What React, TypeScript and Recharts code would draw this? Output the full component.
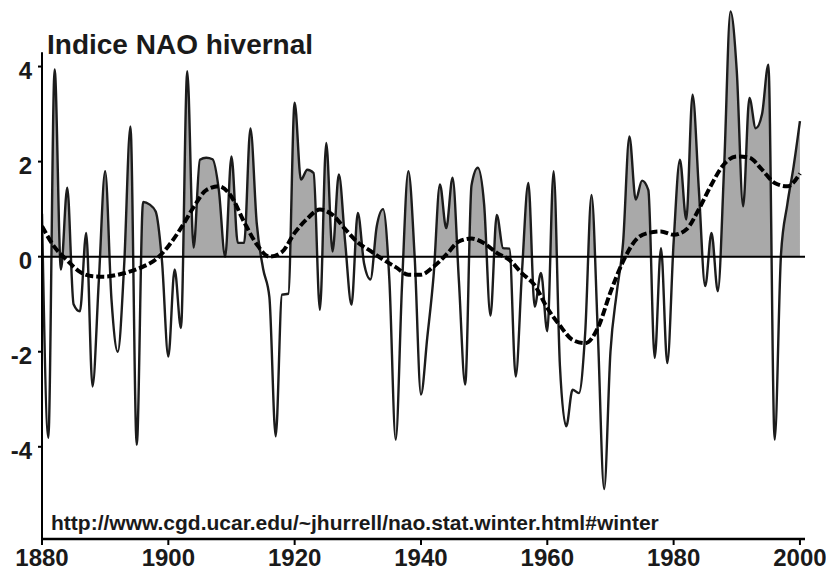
import React from 'react';
import { ComposedChart, Area, Line, XAxis, YAxis, ReferenceLine } from 'recharts';

// Indice NAO hivernal (DJFM), une valeur par an depuis 1880
const firstYear = 1880;
const naoValues = [
  0.9, -3.81, 3.94, -0.27, 1.45, -1.0, -1.15, 0.5, -2.73, -0.5,
  1.8, -0.9, -2.0, -0.2, 2.74, -3.96, 1.15, 1.1, 0.95, -0.1,
  -2.1, -0.27, -1.5, 3.9, 0.19, 2.04, 2.08, 2.05, 1.4, 0.0,
  2.11, 0.29, 0.29, 2.7, 0.7, -0.25, -0.85, -3.78, -0.8, -0.78,
  3.24, 1.62, 1.83, 1.76, -1.12, 2.39, 0.11, 1.73, 0.3, -1.01,
  0.92, -0.15, -0.48, 0.64, 1.0, -0.5, -3.85, -0.6, 1.8, 0.0,
  -2.9, -1.7, -0.4, 1.52, 0.6, 1.66, -0.5, -2.69, 1.5, 1.87,
  1.1, -1.24, 0.88, 0.18, 0.17, -2.52, -0.3, 1.55, -1.05, -0.34,
  -1.57, 1.8, -2.3, -3.57, -2.8, -2.87, -1.6, 1.3, -1.6, -4.89,
  -2.0, -0.75, 0.3, 2.53, 1.2, 1.6, 1.4, -2.13, 0.18, -2.24,
  0.3, 2.04, 0.78, 3.41, 1.4, -0.62, 0.5, -0.73, 1.9, 5.16,
  3.9, 1.06, 3.34, 2.7, 3.0, 4.04, -3.85, 0.05, 1.1, 1.9,
  2.85,
];

// moyenne glissante (courbe en tirets)
const smoothYears = [
  1880, 1882, 1884, 1886, 1888, 1890, 1892, 1894, 1896, 1898,
  1900, 1902, 1904, 1906, 1908, 1910, 1912, 1914, 1916, 1918,
  1920, 1922, 1924, 1926, 1928, 1930, 1932, 1934, 1936, 1938,
  1940, 1942, 1944, 1946, 1948, 1950, 1952, 1954, 1956, 1958,
  1960, 1962, 1964, 1966, 1968, 1970, 1972, 1974, 1976, 1978,
  1980, 1982, 1984, 1986, 1988, 1990, 1992, 1994, 1996, 1998,
  2000,
];
const smoothValues = [
  0.64, 0.2, -0.08, -0.32, -0.41, -0.42, -0.38, -0.31, -0.21, -0.06,
  0.22, 0.6, 1.04, 1.4, 1.48, 1.26, 0.73, 0.26, 0.0, 0.1,
  0.5, 0.8, 0.99, 0.88, 0.58, 0.3, 0.12, -0.06, -0.22, -0.38,
  -0.38, -0.21, 0.04, 0.32, 0.38, 0.28, 0.08, -0.07, -0.35, -0.6,
  -1.08, -1.45, -1.75, -1.82, -1.5, -0.75, -0.1, 0.35, 0.5, 0.53,
  0.46, 0.57, 1.0, 1.52, 1.95, 2.11, 2.08, 1.83, 1.55, 1.48,
  1.75,
];

const xTicks = [1880, 1900, 1920, 1940, 1960, 1980, 2000];
const yTicks = [-4, -2, 0, 2, 4];

const naoData = naoValues.map((v, i) => ({ year: firstYear + i, nao: v }));
const smoothData = smoothYears.map((y, i) => ({ year: y, smooth: smoothValues[i] }));

const FONT = '"Liberation Sans", Arial, Helvetica, sans-serif';
const INK = '#1a1a1a';

const gradientOffset = () => {
  const max = Math.max(...naoValues);
  const min = Math.min(...naoValues);
  return max / (max - min);
};
const off = gradientOffset();

const XTick = ({ x, y, payload }: any) => (
  <text x={x} y={y + 19} textAnchor="middle" fontFamily={FONT} fontSize={24} fontWeight={700} fill={INK}>
    {payload.value}
  </text>
);

const YTick = ({ x, y, payload }: any) => (
  <text x={x - 4} y={y + 12} textAnchor="end" fontFamily={FONT} fontSize={24} fontWeight={700} fill={INK}>
    {payload.value}
  </text>
);

const App = () => {
  return (
    <div style={{ position: 'absolute', left: 0, top: 0, width: 826, height: 573, background: '#fff' }}>
      <ComposedChart width={826} height={573} data={naoData} margin={{ top: 0, right: 21, bottom: 0, left: 0 }}>
        <defs>
          <linearGradient id="naoSplit" x1="0" y1="0" x2="0" y2="1">
            <stop offset={off} stopColor="#a9a9a9" stopOpacity={1} />
            <stop offset={off} stopColor="#ffffff" stopOpacity={0} />
          </linearGradient>
        </defs>
        <XAxis
          dataKey="year"
          type="number"
          domain={[1880, 2000.8]}
          ticks={xTicks}
          allowDataOverflow
          height={34}
          tickSize={6}
          tick={<XTick />}
          axisLine={{ stroke: '#000', strokeWidth: 2.5 }}
          tickLine={{ stroke: '#000', strokeWidth: 2 }}
        />
        <YAxis
          type="number"
          domain={[-5.94, 5.4]}
          ticks={yTicks}
          allowDataOverflow
          width={42}
          tickSize={4}
          tick={<YTick />}
          axisLine={false}
          tickLine={{ stroke: '#000', strokeWidth: 2 }}
        />
        <ReferenceLine
          segment={[{ x: 1880, y: -5.94 }, { x: 1880, y: 4.3 }]}
          stroke="#000"
          strokeWidth={2}
        />
        <Area
          type="monotone"
          dataKey="nao"
          baseValue={0}
          stroke="#1c1c1c"
          strokeWidth={2.4}
          fill="url(#naoSplit)"
          fillOpacity={1}
          dot={false}
          activeDot={false}
          isAnimationActive={false}
        />
        <ReferenceLine y={0} stroke="#000" strokeWidth={2} />
        <Line
          data={smoothData}
          type="monotone"
          dataKey="smooth"
          stroke="#000"
          strokeWidth={4}
          strokeDasharray="8 3"
          dot={false}
          activeDot={false}
          isAnimationActive={false}
        />
      </ComposedChart>
      <div
        style={{
          position: 'absolute', left: 47, top: 31, fontFamily: FONT, fontSize: 28,
          lineHeight: '28px', fontWeight: 700, color: INK, whiteSpace: 'nowrap',
        }}
      >
        Indice NAO hivernal
      </div>
      <div
        style={{
          position: 'absolute', left: 51, top: 512, fontFamily: FONT, fontSize: 21,
          lineHeight: '21px', fontWeight: 700, color: INK, whiteSpace: 'nowrap',
        }}
      >
        http://www.cgd.ucar.edu/~jhurrell/nao.stat.winter.html#winter
      </div>
    </div>
  );
};

export default App;
